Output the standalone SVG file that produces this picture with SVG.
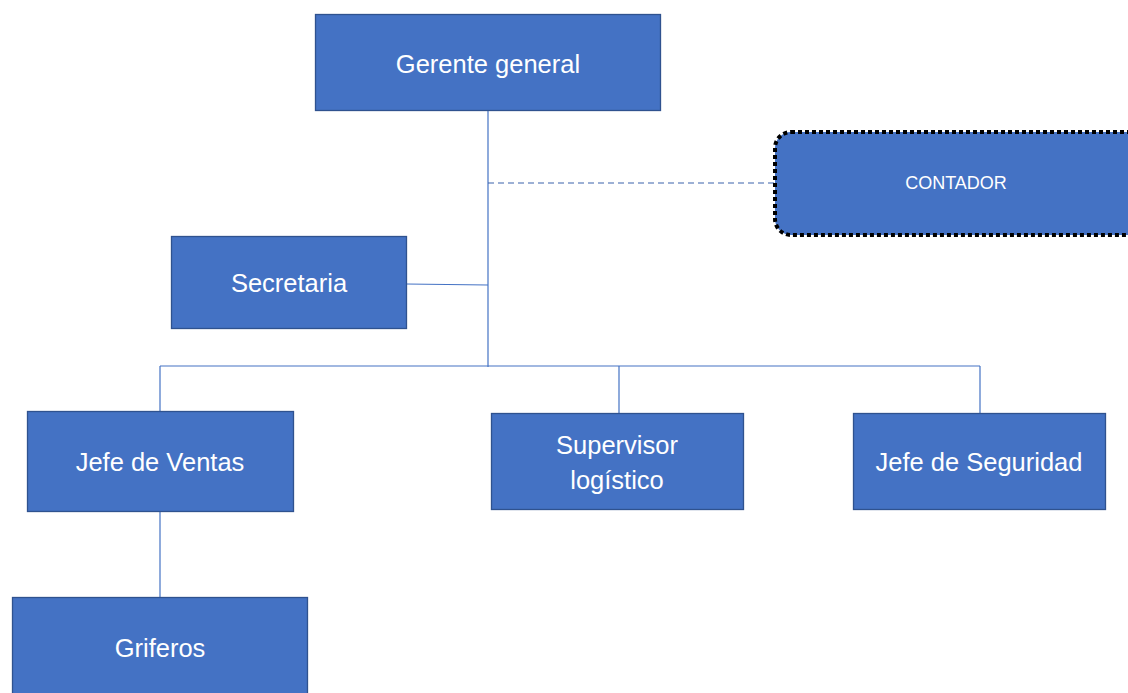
<svg xmlns="http://www.w3.org/2000/svg" width="1128" height="693" viewBox="0 0 1128 693">
<style>
.box{fill:#4472C4;stroke:#2F528F;stroke-width:1.3}
.lbl{font-family:"Liberation Sans","Open Sans",sans-serif;fill:#fff;font-size:25.5px;text-anchor:middle;dominant-baseline:central}
.ln{stroke:#4472C4;stroke-width:1.2;fill:none}
</style>
<rect width="1128" height="693" fill="#fff"/>
<g id="connectors">
<line class="ln" x1="488" y1="111" x2="488" y2="367"/>
<line class="ln" x1="488" y1="183" x2="774" y2="183" stroke-dasharray="6,4" style="stroke:#3A62AC"/>
<line class="ln" x1="406" y1="284" x2="488" y2="285"/>
<line class="ln" x1="160" y1="366" x2="980" y2="366"/>
<line class="ln" x1="160" y1="366" x2="160" y2="411"/>
<line class="ln" x1="619" y1="366" x2="619" y2="413"/>
<line class="ln" x1="980" y1="366" x2="980" y2="413"/>
<line class="ln" x1="160" y1="511" x2="160" y2="597"/>
</g>
<g id="gerente"><rect class="box" x="315.5" y="14.5" width="345" height="96"/><text class="lbl" x="488" y="64">Gerente general</text></g>
<g id="contador"><rect x="775" y="132" width="370" height="103" rx="16" fill="#4472C4" stroke="#000" stroke-width="4" stroke-dasharray="4,3"/><text class="lbl" x="956" y="183" style="font-size:18px">CONTADOR</text></g>
<g id="secretaria"><rect class="box" x="171.5" y="236.5" width="235" height="92"/><text class="lbl" x="289" y="283">Secretaria</text></g>
<g id="ventas"><rect class="box" x="27.5" y="411.5" width="266" height="100"/><text class="lbl" x="160" y="462">Jefe de Ventas</text></g>
<g id="supervisor"><rect class="box" x="491.5" y="413.5" width="252" height="96"/><text class="lbl" x="617" y="445">Supervisor</text><text class="lbl" x="617" y="480">logístico</text></g>
<g id="seguridad"><rect class="box" x="853.5" y="413.5" width="252" height="96"/><text class="lbl" x="979" y="462">Jefe de Seguridad</text></g>
<g id="griferos"><rect class="box" x="12.5" y="597.5" width="295" height="100"/><text class="lbl" x="160" y="648">Griferos</text></g>
</svg>
